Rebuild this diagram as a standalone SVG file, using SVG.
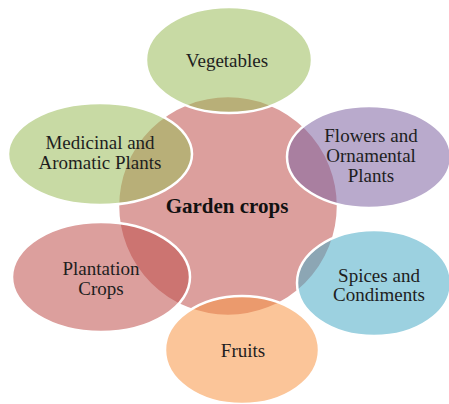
<svg xmlns="http://www.w3.org/2000/svg" width="449" height="404" viewBox="0 0 449 404">
  <style>
    .shape { stroke: #ffffff; stroke-width: 2.5; }
    .red { fill: #C0504D; fill-opacity: 0.55; }
    .green { fill: #9BBB59; fill-opacity: 0.55; }
    .purple { fill: #8064A2; fill-opacity: 0.55; }
    .aqua { fill: #4BACC6; fill-opacity: 0.55; }
    .orange { fill: #F79646; fill-opacity: 0.55; }
    .label { font-family: "Liberation Serif", "Times New Roman", serif; font-size: 19px; fill: #1e1e1e; text-anchor: middle; }
    .title { font-family: "Liberation Serif", "Times New Roman", serif; font-size: 21px; font-weight: bold; fill: #111111; text-anchor: middle; }
  </style>
  <rect width="449" height="404" fill="#ffffff"/>
  <g id="garden-crops">
    <circle class="shape red" cx="228" cy="206" r="110"/>
    <text class="title" x="227" y="213">Garden crops</text>
  </g>
  <g id="vegetables">
    <ellipse class="shape green" cx="229" cy="60" rx="83" ry="53"/>
    <text class="label" x="227" y="67">Vegetables</text>
  </g>
  <g id="flowers">
    <ellipse class="shape purple" cx="369" cy="157" rx="82" ry="51"/>
    <text class="label" x="371" y="142">Flowers and</text>
    <text class="label" x="371" y="162">Ornamental</text>
    <text class="label" x="371" y="182">Plants</text>
  </g>
  <g id="spices">
    <ellipse class="shape aqua" cx="374" cy="283" rx="77" ry="53"/>
    <text class="label" x="379" y="281.5">Spices and</text>
    <text class="label" x="379" y="300.5">Condiments</text>
  </g>
  <g id="fruits">
    <ellipse class="shape orange" cx="242" cy="350" rx="77" ry="54"/>
    <text class="label" x="243" y="357">Fruits</text>
  </g>
  <g id="plantation">
    <ellipse class="shape red" cx="101" cy="277" rx="89" ry="55"/>
    <text class="label" x="101" y="275">Plantation</text>
    <text class="label" x="101" y="294.5">Crops</text>
  </g>
  <g id="medicinal">
    <ellipse class="shape green" cx="100" cy="154" rx="92" ry="51"/>
    <text class="label" x="100" y="149">Medicinal and</text>
    <text class="label" x="100" y="168.5">Aromatic Plants</text>
  </g>
</svg>
